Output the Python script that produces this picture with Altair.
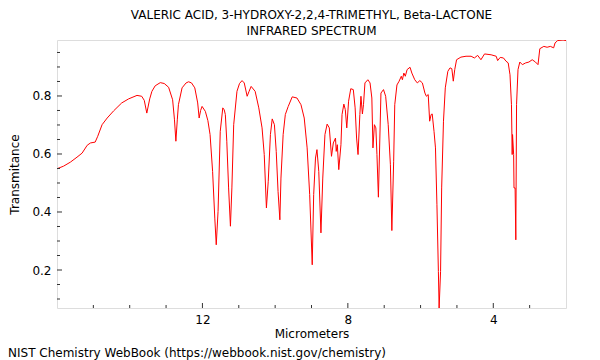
import altair as alt
import pandas as pd

title_lines = ["VALERIC ACID, 3-HYDROXY-2,2,4-TRIMETHYL, Beta-LACTONE", "INFRARED SPECTRUM"]
footer = "NIST Chemistry WebBook (https://webbook.nist.gov/chemistry)"

micrometers = [
    16.00, 15.82, 15.63, 15.45, 15.31, 15.17, 15.08, 14.95, 14.88, 14.76, 14.62, 14.44, 14.22, 14.03,
    13.80, 13.67, 13.60, 13.53, 13.45, 13.39, 13.30, 13.16, 13.05, 12.93, 12.82, 12.77, 12.73, 12.69,
    12.66, 12.56, 12.45, 12.38, 12.30, 12.21, 12.13, 12.09, 12.05, 12.01, 11.92, 11.85, 11.79, 11.72,
    11.66, 11.62, 11.57, 11.51, 11.44, 11.40, 11.37, 11.33, 11.28, 11.23, 11.19, 11.14, 11.05, 10.98,
    10.91, 10.85, 10.77, 10.72, 10.66, 10.55, 10.45, 10.36, 10.30, 10.24, 10.19, 10.13, 10.08, 10.02,
    9.97, 9.92, 9.87, 9.84, 9.78, 9.72, 9.64, 9.53, 9.40, 9.29, 9.20, 9.12, 9.05, 8.98,
    8.94, 8.89, 8.85, 8.80, 8.74, 8.69, 8.63, 8.57, 8.51, 8.45, 8.40, 8.34, 8.32, 8.29,
    8.25, 8.19, 8.16, 8.11, 8.07, 8.03, 7.98, 7.92, 7.85, 7.80, 7.76, 7.72, 7.67, 7.64,
    7.60, 7.57, 7.53, 7.45, 7.39, 7.34, 7.31, 7.27, 7.23, 7.20, 7.16, 7.12, 7.09, 7.02,
    6.96, 6.89, 6.83, 6.79, 6.74, 6.71, 6.65, 6.59, 6.53, 6.50, 6.46, 6.42, 6.37, 6.29,
    6.24, 6.16, 6.09, 6.02, 5.95, 5.88, 5.84, 5.79, 5.75, 5.71, 5.68, 5.63, 5.59, 5.55,
    5.51, 5.49, 5.45, 5.42, 5.37, 5.32, 5.25, 5.19, 5.14, 5.10, 5.06, 5.01, 4.89, 4.75,
    4.61, 4.52, 4.43, 4.34, 4.24, 4.06, 3.92, 3.88, 3.81, 3.72, 3.65, 3.59, 3.54, 3.50,
    3.48, 3.47, 3.44, 3.43, 3.40, 3.38, 3.36, 3.32, 3.27, 3.20, 3.11, 3.02, 2.93, 2.84,
    2.77, 2.72, 2.61, 2.52, 2.43, 2.34, 2.30, 2.23, 2.08, 2.00,
]
transmittance = [
    0.549, 0.558, 0.572, 0.589, 0.603, 0.630, 0.638, 0.641, 0.661, 0.701, 0.724, 0.749, 0.776, 0.790,
    0.802, 0.799, 0.785, 0.741, 0.790, 0.816, 0.835, 0.846, 0.843, 0.830, 0.787, 0.720, 0.644, 0.720,
    0.770, 0.828, 0.845, 0.849, 0.845, 0.828, 0.776, 0.724, 0.750, 0.764, 0.747, 0.715, 0.667, 0.540,
    0.379, 0.287, 0.402, 0.678, 0.759, 0.752, 0.736, 0.644, 0.483, 0.351, 0.483, 0.701, 0.816, 0.843,
    0.853, 0.845, 0.799, 0.815, 0.833, 0.816, 0.759, 0.690, 0.598, 0.414, 0.506, 0.667, 0.721, 0.701,
    0.609, 0.471, 0.373, 0.517, 0.667, 0.736, 0.764, 0.797, 0.793, 0.770, 0.724, 0.621, 0.460, 0.218,
    0.460, 0.586, 0.615, 0.540, 0.328, 0.517, 0.667, 0.703, 0.690, 0.592, 0.638, 0.655, 0.609, 0.632,
    0.546, 0.632, 0.736, 0.772, 0.753, 0.690, 0.782, 0.825, 0.822, 0.759, 0.655, 0.598, 0.736, 0.799,
    0.738, 0.770, 0.845, 0.856, 0.845, 0.793, 0.621, 0.701, 0.690, 0.598, 0.451, 0.655, 0.810, 0.822,
    0.799, 0.701, 0.563, 0.336, 0.575, 0.770, 0.838, 0.851, 0.868, 0.856, 0.879, 0.868, 0.891, 0.899,
    0.879, 0.856, 0.845, 0.853, 0.845, 0.810, 0.799, 0.805, 0.713, 0.736, 0.738, 0.678, 0.621, 0.425,
    0.195, 0.069, 0.195, 0.483, 0.713, 0.828, 0.885, 0.897, 0.894, 0.851, 0.891, 0.925, 0.934, 0.937,
    0.937, 0.931, 0.940, 0.925, 0.945, 0.942, 0.937, 0.922, 0.933, 0.931, 0.920, 0.914, 0.873, 0.770,
    0.598, 0.667, 0.598, 0.483, 0.483, 0.304, 0.770, 0.891, 0.917, 0.908, 0.914, 0.917, 0.925, 0.917,
    0.908, 0.963, 0.971, 0.968, 0.971, 0.966, 0.983, 0.991, 0.993, 0.991,
]

x_major = [4, 8, 12]
x_minor = [3, 5, 6, 7, 9, 10, 11, 13, 14, 15]
y_major = [0.2, 0.4, 0.6, 0.8]
y_minor = [0.1, 0.15, 0.25, 0.3, 0.35, 0.45, 0.5, 0.55, 0.65, 0.7, 0.75, 0.85, 0.9, 0.95]

x_domain = [2, 16]
y_domain = [0.069, 0.993]

FONT = "DejaVu Sans"
W, H = 509, 268

df = pd.DataFrame({"um": micrometers, "T": transmittance})

xscale = alt.Scale(domain=x_domain, reverse=True, nice=False, zero=False)
yscale = alt.Scale(domain=y_domain, nice=False, zero=False)

xaxis = alt.Axis(values=x_major, format="d", ticks=False, domain=False, grid=False,
                 labelPadding=6, title="Micrometers", titlePadding=3,
                 labelFontSize=12, titleFontSize=12, titleFontWeight="normal",
                 labelColor="#000", titleColor="#000", labelFont=FONT, titleFont=FONT)
yaxis = alt.Axis(values=y_major, format=".1f", ticks=False, domain=False, grid=False,
                 labelPadding=6, title="Transmitance", titlePadding=10,
                 labelFontSize=12, titleFontSize=12, titleFontWeight="normal",
                 labelColor="#000", titleColor="#000", labelFont=FONT, titleFont=FONT)

line = alt.Chart(df).mark_line(color="#ff0000", strokeWidth=1, clip=True).encode(
    x=alt.X("um:Q", scale=xscale, axis=xaxis, title="Micrometers"),
    y=alt.Y("T:Q", scale=yscale, axis=yaxis, title="Transmitance"),
)

def xticks(vals, length):
    return alt.Chart(pd.DataFrame({"um": vals})).mark_rule(color="#333", strokeWidth=1).encode(
        x=alt.X("um:Q", scale=xscale, axis=xaxis, title="Micrometers"),
        y=alt.value(H),
        y2=alt.value(H - length),
    )

def yticks(vals, length):
    return alt.Chart(pd.DataFrame({"T": vals})).mark_rule(color="#333", strokeWidth=1).encode(
        y=alt.Y("T:Q", scale=yscale, axis=yaxis, title="Transmitance"),
        x=alt.value(0),
        x2=alt.value(length),
    )

foot = alt.Chart(pd.DataFrame({"t": [footer]})).mark_text(
    align="left", baseline="middle", font=FONT, fontSize=12, color="#000"
).encode(x=alt.value(-49), y=alt.value(313), text="t:N")

chart = alt.layer(
    line, xticks(x_major, 5), xticks(x_minor, 3), yticks(y_major, 5), yticks(y_minor, 3), foot
).properties(
    width=W, height=H,
    title=alt.TitleParams(text=title_lines, fontSize=12, fontWeight="normal", font=FONT,
                          color="#000", anchor="middle", offset=2, lineHeight=16),
    autosize=alt.AutoSizeParams(type="none"),
    padding={"left": 49, "top": 32, "right": 20, "bottom": 52},
).configure_view(stroke="#666", strokeWidth=1).configure(background="white")

chart.save("out.html", embed_options={"renderer": "svg", "actions": False})
